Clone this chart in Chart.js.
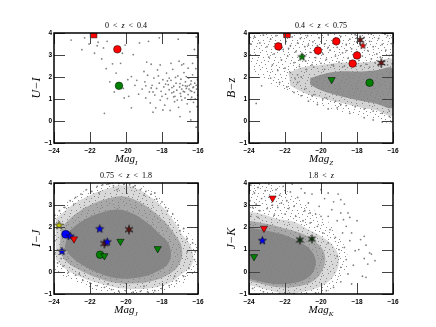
<!DOCTYPE html>
<html>
<head>
<meta charset="utf-8">
<script src="https://cdn.jsdelivr.net/npm/chart.js@4"></script>
<style>
  body { margin: 0; background: #fff; }
  #wrap { position: relative; width: 436px; height: 327px; }
  #wrap canvas { position: absolute; left: 0; top: 0; }
</style>
</head>
<body>
<div id="wrap">
  <canvas id="c1" width="436" height="327"></canvas>
  <canvas id="c2" width="436" height="327"></canvas>
  <canvas id="c3" width="436" height="327"></canvas>
  <canvas id="c4" width="436" height="327"></canvas>
</div>
<script>
// Axis ticks / labels
const xTicks = [-24, -22, -20, -18, -16];
const yTicks = [-1, 0, 1, 2, 3, 4];
const zRanges = [['0', '0.4'], ['0.4', '0.75'], ['0.75', '1.8'], ['1.8', null]];
const yLabels = ['U\u2212I', 'B\u2212z', 'I\u2212J', 'J\u2212K'];
const magBands = ['I', 'Z', 'J', 'K'];

// ---- panel 1: 0 < z < 0.4 ----
const p1Field = [
  [-23.05,3.68],[-22.45,3.24],[-22.3,3.78],[-22.05,3.5],[-21.75,3.08],[-21.55,3.58],[-21.25,3.32],[-21.05,3.62],
  [-21.6,3.42],[-21.35,2.82],[-21.1,2.38],[-20.75,2.6],[-20.2,3.08],[-20.05,3.45],[-20.3,2.62],[-19.6,3.02],
  [-19.25,3.55],[-18.75,3.62],[-18.15,3.78],[-17.1,3.72],[-16.1,3.82],[-20.55,2.18],[-20.9,1.78],[-20.65,1.32],
  [-21.2,0.35],[-19.9,1.88],[-20.15,1.48],[-19.7,2.02],[-19.5,1.62],[-19.3,1.22],[-19.85,1.12],[-20.1,1.05],
  [-18.85,2.68],[-18.6,2.58],[-18.25,2.32],[-17.05,2.72],[-16.9,2.55],[-16.3,2.62],[-16.55,2.4],[-16.2,3.25],
  [-16.05,2.9],[-19.1,1.45],[-18.95,1.78],[-18.9,1.05],[-18.8,2.08],[-18.7,1.32],[-18.65,0.82],[-18.55,1.62],
  [-18.45,1.95],[-18.4,1.18],[-18.35,0.6],[-18.3,1.48],[-18.2,2.05],[-18.15,1.72],[-18.1,0.95],[-18.05,1.35],
  [-17.95,1.88],[-17.9,1.55],[-17.85,0.72],[-17.8,1.22],[-17.75,2.18],[-17.7,1.02],[-17.65,1.65],[-17.6,1.42],
  [-17.55,0.48],[-17.5,1.85],[-17.45,1.28],[-17.4,2.35],[-17.35,1.58],[-17.3,0.88],[-17.28,1.12],[-17.22,1.72],
  [-17.18,1.4],[-17.12,2.05],[-17.08,0.62],[-17.02,1.55],[-16.98,1.25],[-16.95,1.9],[-16.9,0.95],[-16.85,1.62],
  [-16.82,1.35],[-16.78,2.2],[-16.72,1.05],[-16.7,1.78],[-16.65,1.48],[-16.6,0.78],[-16.55,1.2],[-16.52,1.95],
  [-16.48,1.62],[-16.45,0.42],[-16.42,1.38],[-16.38,1.82],[-16.35,1.08],[-16.3,2.1],[-16.28,1.52],[-16.25,0.85],
  [-16.2,1.3],[-16.18,1.72],[-16.15,1.0],[-16.12,2.38],[-16.08,1.45],[-16.05,0.65],[-16.03,1.88],[-16.02,1.18],
  [-17.6,1.95],[-17.25,1.98],[-16.9,1.45],[-16.6,1.58],[-16.35,1.35],[-16.75,1.32],[-17.0,1.7],[-17.45,1.52],
  [-17.8,1.68],[-18.0,1.12],[-17.15,0.95],[-16.4,0.98],[-16.65,2.02],[-17.35,1.32],[-16.1,1.62],[-16.5,1.45],
  [-17.7,1.82],[-18.6,1.5],[-18.9,1.6],[-19.4,1.85],[-19.0,2.25],[-18.5,0.4],[-17.0,0.2],[-16.4,0.05],
  [-16.1,-0.28],[-19.7,0.6],[-18.1,2.55],[-17.5,2.62],[-16.8,2.6],[-18.5,1.32],[-17.95,0.5],[-17.35,1.1],
  [-16.95,1.12],[-16.25,1.55],[-16.7,1.6],[-16.4,1.68]
];
const p1RedSquares = [[-21.8, 3.93]];
const p1RedCircles = [[-20.48, 3.26]];
const p1GreenCircles = [[-20.39, 1.60]];

// ---- panel 2: 0.4 < z < 0.75 ----
const p2Spread = [[-24,3.98],[-16,3.98],[-16,0.0],[-17,0.1],[-18.5,0.35],[-20,0.7],[-21.5,1.2],[-23,1.8],[-24,2.4]];
const p2Halo = [[-21.8,2.2],[-21.0,2.45],[-20.0,2.55],[-19.0,2.65],[-18.0,2.65],[-17.0,2.7],[-16.0,2.75],
  [-16.0,0.3],[-17.0,0.5],[-18.0,0.65],[-19.0,0.85],[-20.0,1.05],[-21.0,1.3],[-21.7,1.6]];
const p2Core = [[-20.6,1.95],[-19.8,2.15],[-19.0,2.25],[-18.0,2.25],[-17.0,2.3],[-16.0,2.35],
  [-16.0,0.65],[-17.0,0.8],[-18.0,0.95],[-19.0,1.15],[-20.0,1.4],[-20.6,1.65]];
const p2Field = [
  [-23.7,3.82],[-23.4,3.55],[-23.2,3.9],[-23.0,3.38],[-22.8,3.72],[-22.6,3.05],[-22.5,3.88],[-22.35,3.52],
  [-22.2,2.78],[-22.1,3.25],[-21.95,3.62],[-21.85,2.95],[-21.7,3.42],[-21.6,3.82],[-21.5,2.65],[-21.4,3.15],
  [-21.3,3.55],[-21.2,2.48],[-21.15,3.75],[-21.0,3.02],[-20.9,3.38],[-20.85,2.72],[-20.75,3.88],[-20.6,3.12],
  [-20.5,2.55],[-20.45,3.6],[-20.3,2.88],[-20.2,3.42],[-20.1,3.78],[-20.0,2.62],[-19.9,3.05],[-19.8,3.5],
  [-19.7,2.8],[-19.6,3.92],[-19.5,3.22],[-19.4,2.55],[-19.3,3.7],[-19.2,2.95],[-19.1,3.35],[-19.0,2.68],
  [-18.9,3.85],[-18.8,3.1],[-18.7,2.5],[-18.6,3.48],[-18.5,2.85],[-18.4,3.72],[-18.3,3.28],[-18.2,2.62],
  [-18.1,3.92],[-18.0,3.15],[-17.9,2.75],[-17.8,3.45],[-17.7,2.95],[-17.6,3.8],[-17.5,2.58],[-17.4,3.2],
  [-17.3,3.62],[-17.2,2.82],[-17.1,3.38],[-17.0,2.65],[-16.9,3.05],[-16.8,3.75],[-16.7,2.9],[-16.6,3.48],
  [-16.5,2.72],[-16.4,3.22],[-16.3,3.88],[-16.2,2.98],[-16.1,3.52],[-16.05,2.6],[-22.9,2.9],[-22.7,2.55],
  [-22.4,2.3],[-22.0,2.4],[-21.7,2.2],[-21.45,1.95],[-21.3,2.1],[-23.3,1.6],[-23.6,0.8],[-22.8,1.95],
  [-22.3,1.75],[-21.9,1.55],[-21.5,1.3],[-21.1,1.15],[-20.7,0.9],[-20.2,0.75],[-19.6,0.55],[-19.1,0.6],
  [-18.4,0.35],[-17.6,0.15],[-17.1,0.05],[-16.6,-0.05],[-16.2,0.2],[-18.9,0.75],[-19.9,1.0],[-20.5,1.15],
  [-23.9,3.5],[-21.8,3.3],[-20.7,3.45],[-19.6,3.35],[-18.6,3.2],[-17.2,3.95],[-16.45,3.95],[-20.8,2.35],
  [-20.4,2.45],[-19.8,2.35],[-19.3,2.5],[-18.8,2.45],[-18.3,2.55],[-17.8,2.5],[-17.3,2.45],[-16.8,2.5],
  [-16.3,2.55],[-20.9,1.45],[-20.4,1.2],[-19.7,1.05],[-19.2,0.9],[-18.6,0.7],[-18.1,0.65],[-17.6,0.55],
  [-17.1,0.45],[-16.6,0.35],[-16.2,0.45],[-21.3,1.75],[-21.1,2.0]
];
const p2RedSquares = [[-21.89, 3.94]];
const p2RedCircles = [[-22.37, 3.39], [-20.17, 3.20], [-19.15, 3.62], [-18.24, 2.61], [-18.00, 2.98]];
const p2MaroonStars = [[-17.82, 3.68], [-16.65, 2.64]];
const p2RedStars = [[-17.67, 3.42]];
const p2GreenStars = [[-21.06, 2.91]];
const p2GreenTriangles = [[-19.41, 1.88]];
const p2GreenCircles = [[-17.30, 1.74]];

// ---- panel 3: 0.75 < z < 1.8 ----
const p3Spread = [[-24,2.7],[-23,3.3],[-22,3.75],[-21,3.98],[-19.5,3.98],[-18.5,3.6],[-17.6,2.9],[-16.8,2.0],
  [-16.1,1.3],[-16.0,0.2],[-16.7,-0.45],[-17.7,-0.85],[-19,-0.98],[-20.5,-0.98],[-22,-0.75],[-23.2,-0.35],[-24,0.1]];
const p3Halo = [[-23.9,2.4],[-23.0,3.0],[-22.0,3.45],[-21.0,3.75],[-20.2,3.9],[-19.4,3.75],[-18.6,3.35],
  [-18.0,2.95],[-17.4,2.35],[-16.9,1.7],[-16.4,1.15],[-16.3,0.4],[-16.9,-0.1],[-17.6,-0.5],[-18.5,-0.72],
  [-19.5,-0.78],[-20.5,-0.72],[-21.5,-0.52],[-22.5,-0.25],[-23.3,0.1],[-23.9,0.55]];
const p3Mid = [[-23.6,2.0],[-22.8,2.6],[-22.0,3.0],[-21.0,3.3],[-20.2,3.4],[-19.4,3.2],[-18.6,2.8],
  [-17.9,2.3],[-17.3,1.7],[-16.9,1.1],[-17.0,0.4],[-17.6,-0.1],[-18.5,-0.4],[-19.5,-0.52],[-20.5,-0.5],
  [-21.5,-0.3],[-22.5,0.05],[-23.3,0.45],[-23.7,0.9]];
const p3Core = [[-23.2,1.8],[-22.5,2.25],[-21.6,2.6],[-20.6,2.8],[-19.7,2.65],[-18.9,2.25],[-18.2,1.75],
  [-17.6,1.2],[-17.6,0.45],[-18.3,0.0],[-19.2,-0.25],[-20.2,-0.3],[-21.2,-0.15],[-22.2,0.2],[-23.0,0.65],
  [-23.4,1.1]];
const p3Field = [
  [-23.95,2.55],[-23.7,2.75],[-23.4,2.9],[-23.1,3.2],[-22.8,3.35],[-22.5,3.5],[-22.2,3.7],[-21.9,3.62],
  [-21.6,3.85],[-21.3,3.92],[-21.0,3.95],[-20.7,3.88],[-20.4,3.98],[-20.1,3.95],[-19.8,3.92],[-19.5,3.88],
  [-19.2,3.7],[-18.9,3.62],[-18.6,3.5],[-18.3,3.28],[-18.0,3.15],[-17.7,2.75],[-17.4,2.6],[-17.1,2.1],
  [-16.8,1.95],[-16.6,1.5],[-16.3,1.3],[-16.15,0.9],[-16.2,0.55],[-16.5,0.15],[-16.8,-0.2],[-17.2,-0.4],
  [-17.6,-0.62],[-18.0,-0.75],[-18.4,-0.85],[-18.8,-0.9],[-19.2,-0.88],[-19.6,-0.92],[-20.0,-0.85],[-20.4,-0.88],
  [-20.8,-0.8],[-21.2,-0.7],[-21.6,-0.62],[-22.0,-0.5],[-22.4,-0.38],[-22.8,-0.15],[-23.2,-0.02],[-23.5,0.25],
  [-23.8,0.4],[-23.95,0.8],[-23.95,1.4],[-22.9,3.05],[-21.5,3.55],[-20.5,3.7],[-19.0,3.45],[-17.8,2.9],
  [-17.0,1.85],[-16.6,0.9],[-17.3,-0.2],[-19.0,-0.65],[-21.0,-0.55],[-22.6,-0.1],[-23.6,0.6],[-20.9,3.98],
  [-19.6,3.82],[-18.4,3.55]
];
const p3YellowStars = [[-23.72, 2.08]];
const p3BlueCircles = [[-23.35, 1.69]];
const p3BlueStars = [[-23.10, 1.60], [-23.56, 0.92], [-21.46, 1.93], [-21.04, 1.34]];
const p3RedTriangles = [[-22.89, 1.48]];
const p3MaroonStars = [[-21.20, 1.27], [-19.83, 1.90]];
const p3GreenTriangles = [[-20.31, 1.37], [-18.24, 1.04], [-21.20, 0.72]];
const p3GreenCircles = [[-21.44, 0.77]];

// ---- panel 4: 1.8 < z ----
const p4Spread = [[-24,4.0],[-22.8,4.0],[-21.8,3.6],[-20.8,3.0],[-19.8,2.4],[-19.0,1.6],[-18.5,0.6],
  [-18.8,-0.3],[-19.6,-0.85],[-21,-1.0],[-22.5,-1.0],[-24,-0.8]];
const p4Halo = [[-24.0,2.7],[-23.3,2.6],[-22.5,2.4],[-21.5,2.25],[-20.8,1.95],[-20.0,1.6],[-19.3,1.15],
  [-19.0,0.5],[-19.3,-0.2],[-20.0,-0.65],[-21.0,-0.9],[-22.0,-0.98],[-23.0,-0.8],[-24.0,-0.6]];
const p4Mid = [[-24.0,2.3],[-23.0,2.15],[-22.0,1.95],[-21.0,1.7],[-20.3,1.35],[-19.8,0.8],[-19.9,0.1],
  [-20.5,-0.45],[-21.5,-0.68],[-22.5,-0.68],[-23.5,-0.5],[-24.0,-0.4]];
const p4Core = [[-24.0,2.0],[-23.0,1.85],[-22.0,1.65],[-21.2,1.35],[-20.5,0.9],[-20.3,0.3],[-20.8,-0.3],
  [-22.0,-0.55],[-23.0,-0.5],[-24.0,-0.3]];
const p4Field = [
  [-23.9,3.9],[-23.7,3.55],[-23.5,3.8],[-23.3,3.3],[-23.1,3.65],[-22.9,3.95],[-22.7,3.0],[-22.5,3.7],
  [-22.3,3.45],[-22.1,3.85],[-21.9,3.2],[-21.7,3.6],[-21.5,2.95],[-21.3,3.35],[-21.1,3.75],[-20.9,2.75],
  [-20.7,3.1],[-20.5,3.5],[-20.3,2.6],[-20.1,2.95],[-19.8,3.3],[-19.6,2.5],[-19.4,2.8],[-19.1,2.3],
  [-18.9,2.65],[-18.6,2.05],[-18.3,1.75],[-18.0,2.3],[-17.8,1.45],[-17.5,1.2],[-17.3,0.85],[-17.6,0.6],
  [-18.1,0.95],[-18.4,1.4],[-18.7,1.1],[-18.2,0.3],[-18.5,-0.1],[-18.9,-0.45],[-19.3,-0.7],[-19.7,-0.85],
  [-20.3,-0.95],[-20.8,-1.0],[-21.5,-0.98],[-22.3,-0.98],[-23.2,-0.9],[-23.8,-0.75],[-23.95,3.2],[-23.8,2.9],
  [-23.6,3.05],[-23.4,2.75],[-23.0,2.85],[-22.8,3.35],[-22.4,2.9],[-22.0,2.6],[-21.8,2.85],[-21.4,2.5],
  [-21.0,2.3],[-20.6,2.2],[-20.2,2.05],[-19.9,1.75],[-19.5,1.9],[-19.2,1.55],[-18.8,1.75],[-19.0,1.0],
  [-18.6,0.55],[-18.9,0.2],[-17.9,1.0],[-17.4,0.35],[-17.7,-0.2],[-18.3,-0.55],[-19.1,0.7],[-19.6,1.3],
  [-20.0,2.5],[-20.6,2.65],[-22.6,2.55],[-23.5,2.45],[-23.9,2.5],[-22.2,3.1],[-21.6,3.95],[-20.9,3.55],
  [-20.0,3.7],[-19.3,3.15],[-18.4,2.45],[-19.05,3.5],[-18.7,3.05],[-18.5,2.65],[-18.9,3.25],[-19.6,3.55],
  [-18.75,2.35],[-17.2,0.8],[-17.5,-0.25],[-17.0,0.5],[-17.6,1.6]
];
const p4RedTriangles = [[-22.69, 3.32], [-23.17, 1.96]];
const p4BlueStars = [[-23.26, 1.40]];
const p4GreenTriangles = [[-23.72, 0.68]];
const p4DarkStars = [[-21.17, 1.43], [-20.50, 1.48]];

// ---------------------------------------------------------------
const SERIF = '"Liberation Serif", "DejaVu Serif", serif';
const toXY = pts => pts.map(p => ({ x: p[0], y: p[1] }));

function starImage(n, rOut, rIn, fill) {
  const s = Math.ceil(rOut * 2 + 2);
  const c = document.createElement('canvas');
  c.width = s; c.height = s;
  const g = c.getContext('2d');
  g.beginPath();
  for (let i = 0; i < 2 * n; i++) {
    const r = i % 2 ? rIn : rOut;
    const t = -Math.PI / 2 + i * Math.PI / n;
    const px = s / 2 + r * Math.cos(t), py = s / 2 + r * Math.sin(t);
    if (i) g.lineTo(px, py); else g.moveTo(px, py);
  }
  g.closePath();
  g.fillStyle = fill; g.fill();
  g.lineWidth = 0.6; g.strokeStyle = '#000'; g.stroke();
  return c;
}

// speckled fill: a small tile of grey dots, used as a fill style
function speckle(size, dots) {
  const c = document.createElement('canvas');
  c.width = size; c.height = size;
  const g = c.getContext('2d');
  g.fillStyle = '#8c8c8c';
  dots.forEach(d => g.fillRect(d[0], d[1], 1, 1));
  return document.createElement('canvas').getContext('2d').createPattern(c, 'repeat');
}
const sparseDots = speckle(17, [[0,3],[5,1],[11,0],[15,4],[2,9],[8,6],[13,10],[4,14],[10,13],[16,15],
  [7,16],[1,12],[14,7],[6,11],[12,3],[3,6],[9,9],[16,1]]);

const imgs = {
  greenStar: starImage(5, 4.2, 1.8, '#008000'),
  redStar: starImage(5, 3.4, 1.5, '#ff0000'),
  blueStar: starImage(5, 4.2, 1.8, '#0000ff'),
  yellowStar: starImage(5, 4.4, 1.9, '#bfbf00'),
  maroon: starImage(6, 4.6, 1.3, '#7a1010'),
  darkGreen: starImage(6, 4.4, 1.3, '#0d3d0d')
};

function field(pts) {
  return { data: toXY(pts), pointRadius: 0.9, pointBackgroundColor: '#808080', pointBorderWidth: 0, showLine: false, clip: 0 };
}
function blob(pts, fillStyle) {
  return { data: toXY(pts), showLine: true, fill: 'shape', tension: 0.4, clip: 0,
    backgroundColor: fillStyle, borderColor: 'rgba(0,0,0,0)', borderWidth: 0, pointRadius: 0 };
}
function mark(pts, style, color, radius, rotation) {
  return { data: toXY(pts), pointStyle: style, pointRadius: radius, pointRotation: rotation || 0,
    pointBackgroundColor: color, pointBorderColor: '#000', pointBorderWidth: 0.5, showLine: false, clip: 0 };
}

function drawPieces(ctx, pieces, cx, baseline) {
  let total = 0;
  pieces.forEach(p => { ctx.font = p.font; p.w = ctx.measureText(p.text).width; total += p.w; });
  let x = cx - total / 2;
  pieces.forEach(p => { ctx.font = p.font; ctx.fillText(p.text, x, baseline + (p.dy || 0)); x += p.w; });
}

const decor = {
  id: 'decor',
  afterDatasetsDraw(chart, args, opts) {
    const { ctx, chartArea: a } = chart;
    const xs = chart.scales.x, ys = chart.scales.y;
    ctx.save();
    ctx.strokeStyle = '#444';
    ctx.lineWidth = 1;
    ctx.beginPath();
    xTicks.forEach(v => {
      const p = Math.round(xs.getPixelForValue(v)) + 0.5;
      ctx.moveTo(p, a.bottom); ctx.lineTo(p, a.bottom - 11);
      ctx.moveTo(p, a.top); ctx.lineTo(p, a.top + 11);
    });
    yTicks.forEach(v => {
      const p = Math.round(ys.getPixelForValue(v)) + 0.5;
      ctx.moveTo(a.left, p); ctx.lineTo(a.left + 11, p);
      ctx.moveTo(a.right, p); ctx.lineTo(a.right - 11, p);
    });
    ctx.stroke();
    ctx.strokeStyle = '#000';
    ctx.lineWidth = 1.5;
    ctx.strokeRect(a.left, a.top, a.right - a.left, a.bottom - a.top);

    ctx.fillStyle = '#000';
    ctx.textAlign = 'left';
    ctx.textBaseline = 'alphabetic';
    const cx = (a.left + a.right) / 2;
    const [lo, hi] = opts.z;
    const tf = '8px ' + SERIF, tfi = 'italic 8px ' + SERIF;
    const title = [{ text: lo + '  <  ', font: tf }, { text: 'z', font: tfi }];
    if (hi) title.push({ text: '  <  ' + hi, font: tf });
    drawPieces(ctx, title, cx, a.top - 5);
    drawPieces(ctx, [
      { text: 'Mag', font: 'italic 11px ' + SERIF },
      { text: opts.band, font: 'italic 7px ' + SERIF, dy: 3 }
    ], cx, a.bottom + 19);

    ctx.translate(a.left - 14, (a.top + a.bottom) / 2);
    ctx.rotate(-Math.PI / 2);
    ctx.textAlign = 'center';
    ctx.font = 'italic 12px ' + SERIF;
    ctx.fillText(opts.yLabel, 0, 0);
    ctx.restore();
  }
};

const tickFont = { family: '"Liberation Sans", Arial, sans-serif', size: 6.5, weight: 'bold' };
const fmt = v => String(v).replace('-', '\u2212');

// datasets are listed back to front; Chart.js paints index 0 last, so reverse
function makePanel(id, pad, idx, layers) {
  return new Chart(document.getElementById(id), {
    type: 'scatter',
    data: { datasets: layers.slice().reverse() },
    options: {
      responsive: false,
      animation: false,
      events: [],
      layout: { padding: pad },
      plugins: {
        legend: { display: false },
        tooltip: { enabled: false },
        decor: { z: zRanges[idx], yLabel: yLabels[idx], band: magBands[idx] }
      },
      scales: {
        x: {
          type: 'linear', min: -24, max: -16,
          afterFit: s => { s.height = 20; },
          grid: { display: false, drawTicks: false },
          border: { display: false },
          ticks: { stepSize: 2, padding: 4, color: '#000', font: tickFont, callback: fmt, maxRotation: 0 }
        },
        y: {
          type: 'linear', min: -1, max: 4,
          afterFit: s => { s.width = 20; },
          grid: { display: false, drawTicks: false },
          border: { display: false },
          ticks: { stepSize: 1, padding: 2, color: '#000', font: tickFont, callback: fmt }
        }
      }
    },
    plugins: [decor]
  });
}

makePanel('c1', { left: 34, right: 238, top: 33, bottom: 164 }, 0, [
  field(p1Field),
  mark(p1RedSquares, 'rect', '#ff0000', 4.7),
  mark(p1RedCircles, 'circle', '#ff0000', 3.8),
  mark(p1GreenCircles, 'circle', '#008000', 3.8)
]);

makePanel('c2', { left: 229, right: 43, top: 33, bottom: 164 }, 1, [
  blob(p2Spread, sparseDots),
  blob(p2Halo, 'rgba(128,128,128,0.35)'),
  blob(p2Core, 'rgba(128,128,128,0.8)'),
  field(p2Field),
  mark(p2RedSquares, 'rect', '#ff0000', 4.7),
  mark(p2RedCircles, 'circle', '#ff0000', 3.8),
  mark(p2GreenCircles, 'circle', '#008000', 3.8),
  mark(p2GreenTriangles, 'triangle', '#008000', 4.2, 180),
  mark(p2GreenStars, imgs.greenStar, '#008000', 4),
  mark(p2MaroonStars, imgs.maroon, '#7a1010', 4),
  mark(p2RedStars, imgs.redStar, '#ff0000', 3)
]);

makePanel('c3', { left: 34, right: 238, top: 183, bottom: 13 }, 2, [
  blob(p3Spread, sparseDots),
  blob(p3Halo, 'rgba(128,128,128,0.3)'),
  blob(p3Mid, 'rgba(128,128,128,0.55)'),
  blob(p3Core, 'rgba(128,128,128,0.85)'),
  field(p3Field),
  mark(p3GreenCircles, 'circle', '#008000', 3.8),
  mark(p3GreenTriangles, 'triangle', '#008000', 4.2, 180),
  mark(p3MaroonStars, imgs.maroon, '#7a1010', 4),
  mark(p3BlueCircles, 'circle', '#0000ff', 4),
  mark(p3BlueStars, imgs.blueStar, '#0000ff', 4),
  mark(p3RedTriangles, 'triangle', '#ff0000', 4.2, 180),
  mark(p3YellowStars, imgs.yellowStar, '#bfbf00', 4)
]);

makePanel('c4', { left: 229, right: 43, top: 183, bottom: 13 }, 3, [
  blob(p4Spread, sparseDots),
  blob(p4Halo, 'rgba(128,128,128,0.3)'),
  blob(p4Mid, 'rgba(128,128,128,0.55)'),
  blob(p4Core, 'rgba(128,128,128,0.85)'),
  field(p4Field),
  mark(p4GreenTriangles, 'triangle', '#008000', 4.2, 180),
  mark(p4RedTriangles, 'triangle', '#ff0000', 4.2, 180),
  mark(p4BlueStars, imgs.blueStar, '#0000ff', 4),
  mark(p4DarkStars, imgs.darkGreen, '#0d3d0d', 4)
]);
</script>
</body>
</html>
